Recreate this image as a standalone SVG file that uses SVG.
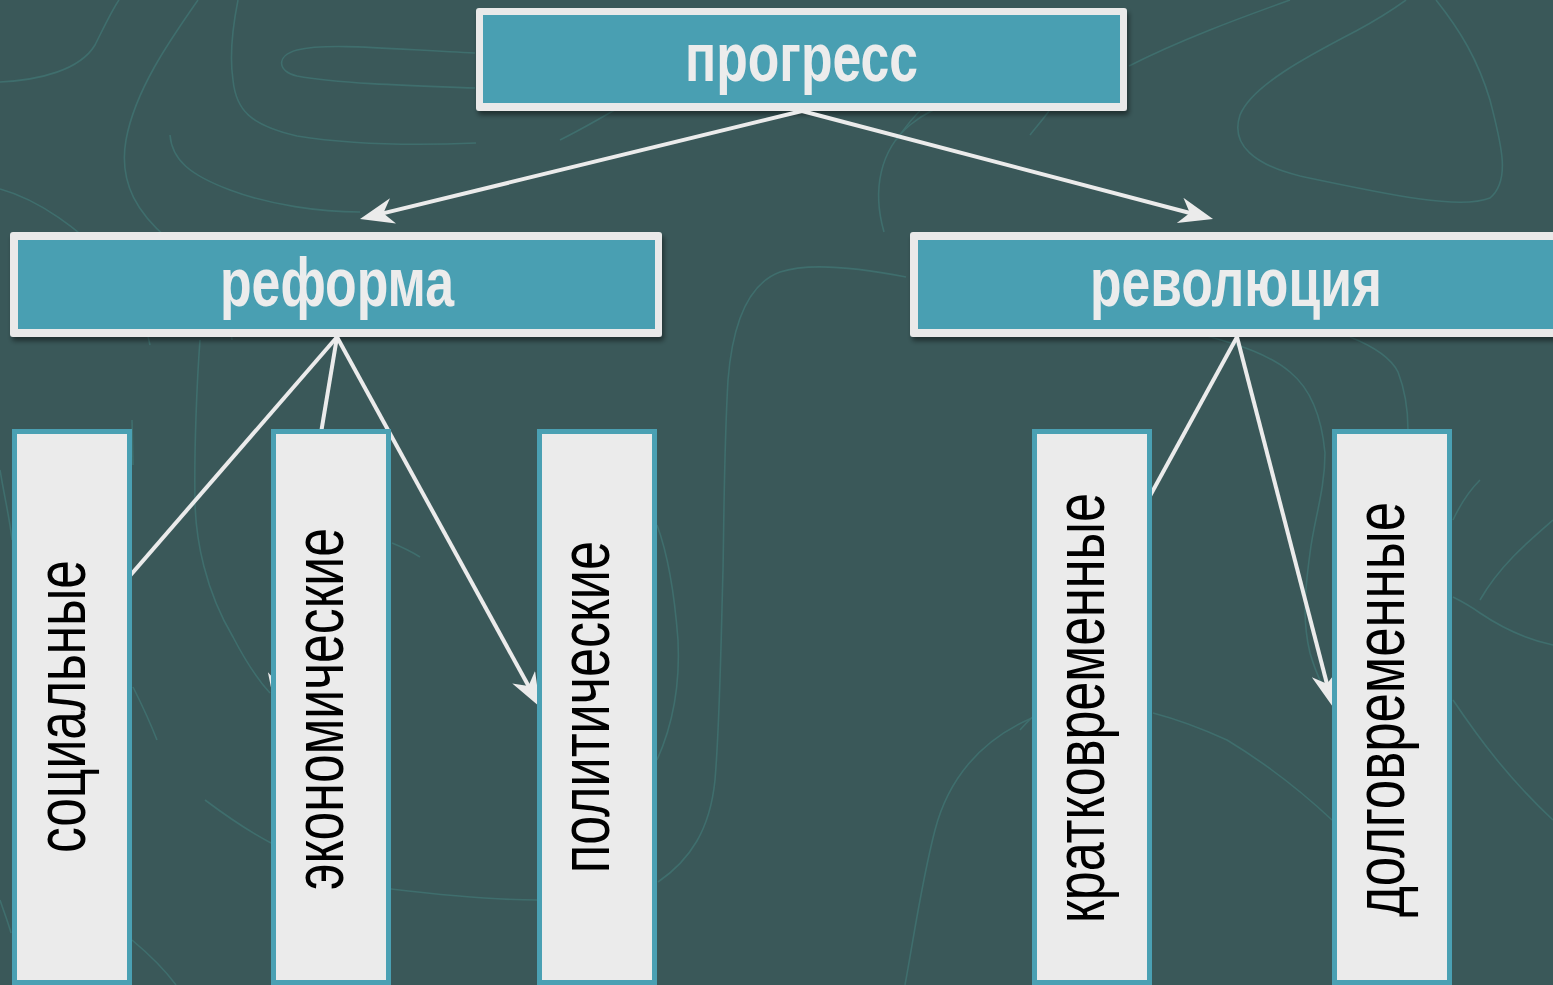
<svg xmlns="http://www.w3.org/2000/svg" width="1553" height="985" viewBox="0 0 1553 985">
  <defs>
    <style>
      .ct { fill: none; stroke: #3f6e6d; stroke-width: 1.6; }
      .hout { fill: #e9e9e9; }
      .hin { fill: #4a9fb2; }
      .htxt { font-family: "Liberation Sans", Arial, sans-serif; font-weight: bold; font-size: 68px; fill: #ececec; text-anchor: middle; }
      .vb { fill: #ebebeb; stroke: #4aa0b3; stroke-width: 5; }
      .vtxt { font-family: "Liberation Sans", Arial, sans-serif; font-size: 71px; fill: #000000; text-anchor: middle; }
      .cn { fill: none; stroke: #ebebeb; stroke-width: 4; marker-end: url(#ah); }
    </style>
    <marker id="ah" markerUnits="userSpaceOnUse" viewBox="0 0 36 28" markerWidth="36" markerHeight="28" refX="19" refY="13" orient="auto">
      <path d="M0,0 L34,13 L0,26 L10,13 Z" fill="#ebebeb"/>
    </marker>
    <filter id="sh" x="-5%" y="-10%" width="110%" height="130%">
      <feDropShadow dx="2" dy="4" stdDeviation="2.5" flood-color="#000000" flood-opacity="0.45"/>
    </filter>
  </defs>

  <rect x="0" y="0" width="1553" height="985" fill="#3a5859"/>

  <g id="contours">
    <path class="ct" d="M0,82 C40,80 80,70 95,45 C105,25 112,10 119,0"/>
    <path class="ct" d="M198,0 C170,40 135,90 126,140 C118,185 140,215 168,239 C200,265 230,300 232,340"/>
    <path class="ct" d="M475,53 C400,50 330,42 297,50 C275,56 278,72 297,76 C340,84 420,86 475,88"/>
    <path class="ct" d="M238,0 C232,30 230,60 233,80 C236,110 250,125 297,136 C360,146 430,145 476,143"/>
    <path class="ct" d="M170,135 C172,160 190,175 230,190 C270,205 320,212 360,212"/>
    <path class="ct" d="M0,189 C40,200 80,230 110,262 C130,285 145,320 150,345"/>
    <path class="ct" d="M1129,66 C1180,40 1240,18 1290,0"/>
    <path class="ct" d="M1436,0 C1460,30 1478,60 1490,100 C1500,140 1512,180 1490,198 C1460,210 1390,195 1300,176 C1255,165 1230,145 1240,115 C1252,85 1310,55 1356,31 C1380,18 1395,8 1406,0"/>
    <path class="ct" d="M884,232 C872,190 880,150 910,125 C940,100 975,96 1010,94"/>
    <path class="ct" d="M906,277 C860,268 810,262 780,272 C745,285 732,330 728,380 C724,450 724,520 723,570 C721,640 720,720 715,780 C710,830 690,860 658,882"/>
    <path class="ct" d="M538,900 C500,900 450,896 391,889"/>
    <path class="ct" d="M205,800 C225,815 250,832 271,843"/>
    <path class="ct" d="M132,940 C150,955 165,970 176,985"/>
    <path class="ct" d="M0,900 C4,912 8,922 11,933"/>
    <path class="ct" d="M200,340 C197,380 194,450 195,503 C196,540 205,590 233,637 C245,660 258,680 270,693"/>
    <path class="ct" d="M132,420 L133,465"/>
    <path class="ct" d="M133,687 C142,705 150,722 157,740"/>
    <path class="ct" d="M392,543 C402,547 412,552 420,557"/>
    <path class="ct" d="M1207,336 C1240,345 1270,355 1290,372 C1312,390 1322,420 1325,453 C1325,490 1314,520 1310,553 C1305,590 1302,620 1310,653 C1318,680 1325,690 1333,703"/>
    <path class="ct" d="M1350,337 C1370,345 1390,356 1398,372 C1405,390 1408,410 1408,430"/>
    <path class="ct" d="M1480,480 C1468,492 1460,505 1453,520"/>
    <path class="ct" d="M1453,597 C1465,603 1473,608 1480,613 C1505,630 1530,640 1553,645"/>
    <path class="ct" d="M1453,700 C1480,740 1510,780 1553,820"/>
    <path class="ct" d="M1553,520 C1530,540 1500,565 1480,600"/>
    <path class="ct" d="M1020,730 C1027,722 1032,716 1040,712"/>
    <path class="ct" d="M1153,713 C1180,720 1205,730 1227,740 C1260,760 1300,790 1332,820"/>
    <path class="ct" d="M1032,718 C980,740 948,780 935,830 C922,880 915,930 905,985"/>
    <path class="ct" d="M560,140 C590,125 615,110 640,95"/>
    <path class="ct" d="M896,140 C905,128 912,118 920,111"/>
    <path class="ct" d="M1030,135 C1038,125 1044,118 1049,111"/>
    <path class="ct" d="M657,525 C670,560 675,600 678,640 C680,680 675,720 657,760"/>
    <path class="ct" d="M0,470 C5,500 10,520 12,540"/>
  </g>

  <g id="node-progress" filter="url(#sh)">
    <rect class="hout" x="476" y="8" width="651" height="103" rx="3"/>
    <rect class="hin" x="483" y="15" width="637" height="88"/>
    <text class="htxt" x="801.5" y="81" textLength="233" lengthAdjust="spacingAndGlyphs">прогресс</text>
  </g>

  <g id="node-reforma" filter="url(#sh)">
    <rect class="hout" x="10" y="232" width="652" height="105" rx="3"/>
    <rect class="hin" x="18" y="240" width="637" height="89"/>
    <text class="htxt" x="337" y="306" textLength="234" lengthAdjust="spacingAndGlyphs">реформа</text>
  </g>

  <g id="node-revolution" filter="url(#sh)">
    <rect class="hout" x="910" y="232" width="660" height="105" rx="3"/>
    <rect class="hin" x="918" y="240" width="650" height="89"/>
    <text class="htxt" x="1236" y="306" textLength="292" lengthAdjust="spacingAndGlyphs">революция</text>
  </g>

  <g id="connectors">
    <line class="cn" x1="802" y1="111" x2="374.6" y2="215.4"/>
    <line class="cn" x1="802" y1="111" x2="1198.5" y2="215.2"/>
    <line class="cn" x1="337" y1="337" x2="24" y2="698"/>
    <line class="cn" x1="337" y1="337" x2="277.6" y2="693.2"/>
    <line class="cn" x1="337" y1="337" x2="532.8" y2="693.8"/>
    <line class="cn" x1="1237" y1="337" x2="1041" y2="695"/>
    <line class="cn" x1="1237" y1="337" x2="1329.2" y2="692.5"/>
  </g>

  <g id="node-social">
    <rect class="vb" x="14.5" y="431.5" width="115" height="551"/>
    <text class="vtxt" transform="translate(85,706.5) rotate(-90)" textLength="293" lengthAdjust="spacingAndGlyphs">социальные</text>
  </g>

  <g id="node-economic">
    <rect class="vb" x="273.5" y="431.5" width="115" height="551"/>
    <text class="vtxt" transform="translate(343,709) rotate(-90)" textLength="362" lengthAdjust="spacingAndGlyphs">экономические</text>
  </g>

  <g id="node-political">
    <rect class="vb" x="539.5" y="431.5" width="115" height="551"/>
    <text class="vtxt" transform="translate(609,707) rotate(-90)" textLength="332" lengthAdjust="spacingAndGlyphs">политические</text>
  </g>

  <g id="node-short">
    <rect class="vb" x="1034.5" y="431.5" width="115" height="551"/>
    <text class="vtxt" transform="translate(1104,708) rotate(-90)" textLength="430" lengthAdjust="spacingAndGlyphs">кратковременные</text>
  </g>

  <g id="node-long">
    <rect class="vb" x="1334.5" y="431.5" width="115" height="551"/>
    <text class="vtxt" transform="translate(1404,709.5) rotate(-90)" textLength="415" lengthAdjust="spacingAndGlyphs">долговременные</text>
  </g>
</svg>
